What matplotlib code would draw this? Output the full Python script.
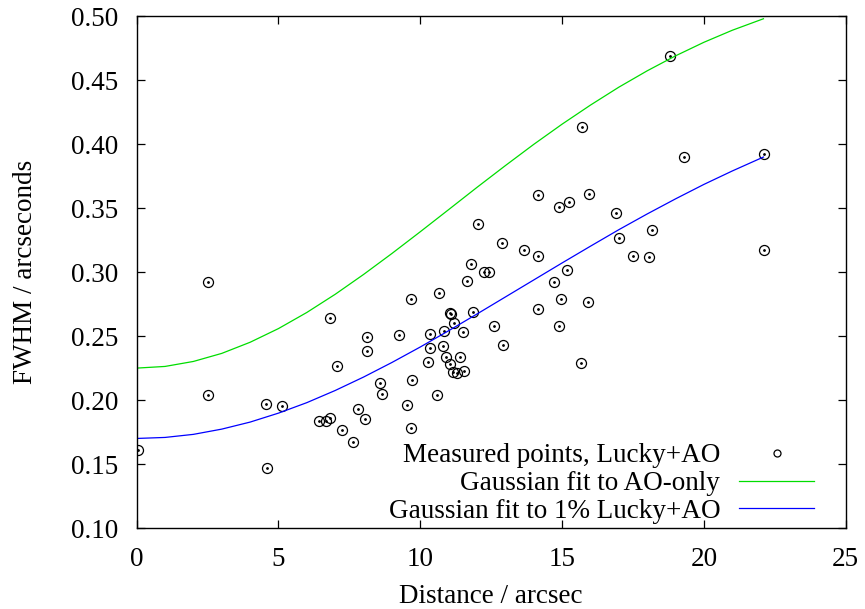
import numpy as np
import matplotlib
matplotlib.use("Agg")
from matplotlib import pyplot as plt

# measured FWHM vs distance from the guide star (Lucky+AO)
dist = [0.05, 2.50, 2.53, 4.55, 5.13, 4.59, 6.83, 7.06, 6.42, 6.69, 6.83, 7.24, 7.62, 7.79,
        8.04, 8.13, 8.13, 8.57, 8.66, 9.24, 9.52, 9.67, 9.66, 9.70, 10.28, 10.35, 10.33,
        10.60, 10.66, 10.82, 10.80, 10.90, 11.06, 11.06, 11.10, 11.16, 11.29, 11.20, 11.39,
        11.52, 11.55, 11.65, 11.80, 11.85, 12.05, 12.26, 12.41, 12.59, 12.87, 12.93, 13.66,
        14.15, 14.15, 14.16, 14.71, 14.89, 14.90, 14.97, 15.17, 15.24, 15.66, 15.71, 15.94,
        15.90, 16.90, 17.01, 17.49, 18.06, 18.16, 18.82, 19.31, 22.13, 22.11]
fwhm = [0.161, 0.292, 0.204, 0.197, 0.195, 0.147, 0.264, 0.227, 0.184, 0.184, 0.186, 0.177,
        0.167, 0.193, 0.185, 0.249, 0.238, 0.213, 0.205, 0.251, 0.196, 0.279, 0.178, 0.216,
        0.230, 0.252, 0.241, 0.204, 0.284, 0.254, 0.242, 0.234, 0.228, 0.268, 0.267, 0.222,
        0.221, 0.260, 0.234, 0.253, 0.223, 0.293, 0.306, 0.269, 0.338, 0.300, 0.300, 0.258,
        0.323, 0.243, 0.317, 0.360, 0.313, 0.271, 0.292, 0.351, 0.258, 0.279, 0.302, 0.355,
        0.229, 0.4135, 0.361, 0.277, 0.346, 0.327, 0.313, 0.312, 0.333, 0.469, 0.390, 0.392,
        0.317]

# gaussian fit curves, sampled along distance
fit_x = [0, 1, 2, 3, 4, 5, 6, 7, 8, 9, 10, 11, 12, 13, 14, 15, 16, 17, 18, 19, 20, 21, 22.1]
fit_ao = [0.225, 0.2263, 0.2302, 0.2365, 0.2452, 0.2559, 0.2685, 0.2827, 0.2982, 0.3146,
          0.3316, 0.3489, 0.3663, 0.3833, 0.3999, 0.4157, 0.4306, 0.4446, 0.4574, 0.4691,
          0.4797, 0.4891, 0.4981]
fit_lucky = [0.170, 0.1708, 0.1732, 0.1773, 0.1828, 0.1898, 0.198, 0.2075, 0.218, 0.2294,
             0.2415, 0.2542, 0.2673, 0.2806, 0.2939, 0.3072, 0.3203, 0.3332, 0.3455, 0.3573,
             0.3686, 0.3791, 0.390]

plt.rcParams['font.family'] = ['Liberation Serif', 'DejaVu Serif']
plt.rcParams['font.size'] = 19.5

fig = plt.figure(figsize=(8.65, 6.09), dpi=100)
ax = fig.add_axes([0.158, 0.133, 0.8197, 0.8402])

ax.plot(dist, fwhm, linestyle='none', marker='o', markersize=7.2, markerfacecolor='none',
        markeredgecolor='black', markeredgewidth=0.9, label='Measured points, Lucky+AO')
ax.plot(dist, fwhm, linestyle='none', marker='o', markersize=1.0, color='black')
ax.plot(fit_x, fit_ao, color='#00dd00', linewidth=0.9, label='Gaussian fit to AO-only')
ax.plot(fit_x, fit_lucky, color='#0000ff', linewidth=0.9, label='Gaussian fit to 1% Lucky+AO')

ax.set_xlim(0, 25)
ax.set_ylim(0.10, 0.50)
ax.set_xticks(np.arange(0, 26, 5))
ax.set_yticks(np.arange(0.10, 0.501, 0.05))
ax.yaxis.set_major_formatter(matplotlib.ticker.FormatStrFormatter('%.2f'))
ax.tick_params(direction='in', length=6, width=0.9, top=True, right=True)
ax.tick_params(axis='y', pad=13)
ax.tick_params(axis='x', pad=14)
for s in ax.spines.values():
    s.set_linewidth(1.0)

ax.set_xlabel("Distance / arcsec", labelpad=8)
ax.set_ylabel("FWHM / arcseconds", labelpad=24)

leg = ax.legend(loc='lower right', bbox_to_anchor=(0.955, 0.008), markerfirst=False,
                frameon=False, borderpad=0, borderaxespad=0, handlelength=2.75,
                handletextpad=0.7, labelspacing=0.1, numpoints=1, markerscale=0.7)

fig.savefig("out.png", dpi=100)
